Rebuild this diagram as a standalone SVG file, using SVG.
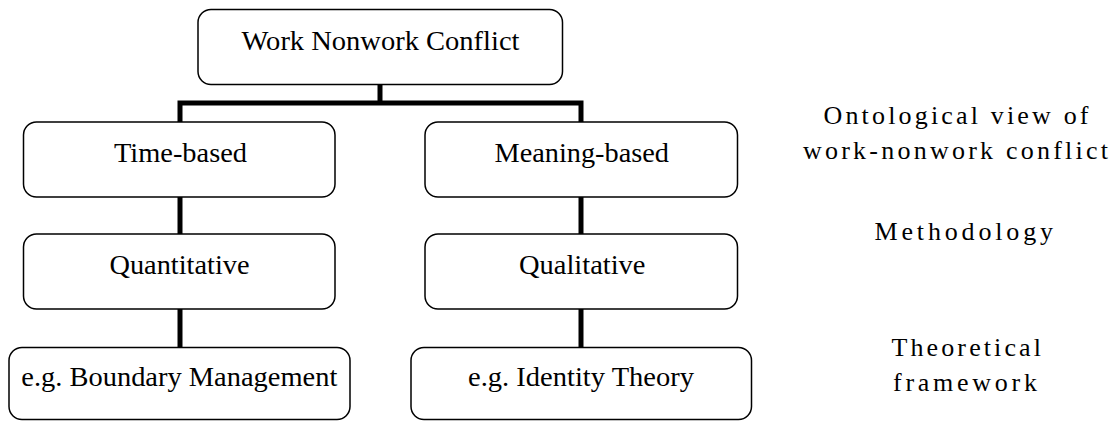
<svg xmlns="http://www.w3.org/2000/svg" width="1114" height="421" viewBox="0 0 1114 421">
<style>
.box{fill:#fff;stroke:#000;stroke-width:1.5}
.t{font-family:"Liberation Serif","Times New Roman",serif;font-size:28px;fill:#000}
.r{font-family:"Liberation Serif","Times New Roman",serif;font-size:26px;fill:#000}
.c{fill:none;stroke:#000;stroke-width:5;stroke-linejoin:miter}
</style>
<rect width="1114" height="421" fill="#fff"/>
<g id="connectors">
<path class="c" d="M380,84 V103"/>
<path class="c" d="M180,122 V103 H581 V122"/>
<path class="c" d="M180,197 V234"/>
<path class="c" d="M180,309 V347"/>
<path class="c" d="M581,197 V234"/>
<path class="c" d="M581,309 V347"/>
</g>
<g id="n-root">
<rect class="box" x="198" y="9.5" width="364.5" height="75" rx="13"/>
<text class="t" x="241.5" y="49.5" textLength="278" lengthAdjust="spacingAndGlyphs">Work Nonwork Conflict</text>
</g>
<g id="n-time">
<rect class="box" x="23.5" y="122" width="311.5" height="75" rx="13"/>
<text class="t" x="114" y="161.7" textLength="133" lengthAdjust="spacingAndGlyphs">Time-based</text>
</g>
<g id="n-meaning">
<rect class="box" x="425" y="122" width="312.5" height="75" rx="13"/>
<text class="t" x="494.5" y="161.7" textLength="174.5" lengthAdjust="spacingAndGlyphs">Meaning-based</text>
</g>
<g id="n-quant">
<rect class="box" x="23.5" y="234" width="311.5" height="75" rx="13"/>
<text class="t" x="109.5" y="274" textLength="140" lengthAdjust="spacingAndGlyphs">Quantitative</text>
</g>
<g id="n-qual">
<rect class="box" x="425" y="234" width="312.5" height="75" rx="13"/>
<text class="t" x="519" y="274" textLength="126.5" lengthAdjust="spacingAndGlyphs">Qualitative</text>
</g>
<g id="n-boundary">
<rect class="box" x="9" y="347.5" width="341" height="72" rx="13"/>
<text class="t" x="21.3" y="386.3" textLength="316" lengthAdjust="spacingAndGlyphs">e.g. Boundary Management</text>
</g>
<g id="n-identity">
<rect class="box" x="411" y="347.5" width="340.5" height="72" rx="13"/>
<text class="t" x="468" y="386.3" textLength="226" lengthAdjust="spacingAndGlyphs">e.g. Identity Theory</text>
</g>
<g id="labels">
<text class="r" x="823.5" y="124" textLength="265" lengthAdjust="spacing">Ontological view of</text>
<text class="r" x="803" y="159" textLength="305" lengthAdjust="spacing">work-nonwork conflict</text>
<text class="r" x="874.5" y="240" textLength="178.5" lengthAdjust="spacing">Methodology</text>
<text class="r" x="891.5" y="355.5" textLength="149.5" lengthAdjust="spacing">Theoretical</text>
<text class="r" x="893" y="390.5" textLength="144" lengthAdjust="spacing">framework</text>
</g>
</svg>
